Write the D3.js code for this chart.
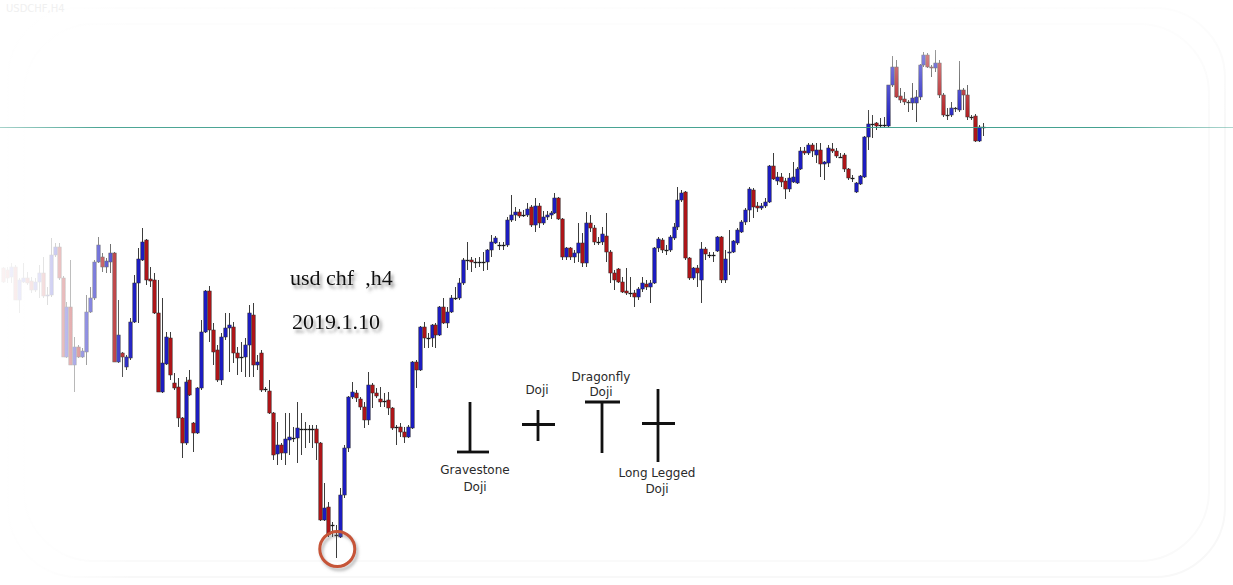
<!DOCTYPE html>
<html><head><meta charset="utf-8">
<script src="https://cdn.jsdelivr.net/npm/d3@7"></script>
<style>html,body{margin:0;padding:0;background:#fff;overflow:hidden}</style>
</head><body><svg id="chart" width="1233" height="585"></svg>
<script>
// USDCHF H4 candles
const open=[1.0132,1.0130,1.0123,1.0133,1.0100,1.0118,1.0122,1.0119,1.0110,1.0118,
1.0127,1.0104,1.0105,1.0145,1.0153,1.0122,1.0043,1.0093,1.0035,1.0053,
1.0043,1.0048,1.0088,1.0102,1.0138,1.0143,1.0133,1.0138,1.0147,1.0038,
1.0047,1.0033,1.0042,1.0078,1.0117,1.0140,1.0160,1.0121,1.0120,1.0087,
1.0008,1.0036,1.0062,1.0017,1.0013,0.9982,0.9957,1.0020,0.9977,0.9967,
1.0012,1.0068,1.0109,1.0070,1.0050,1.0020,1.0063,1.0072,1.0073,1.0047,
1.0043,1.0043,1.0055,1.0085,1.0035,1.0047,1.0011,1.0009,0.9987,0.9946,
0.9955,0.9947,0.9960,0.9962,0.9962,0.9971,0.9971,0.9971,0.9971,0.9971,
0.9957,0.9880,0.9893,0.9875,0.9865,0.9863,0.9905,0.9952,1.0003,1.0007,
1.0001,0.9993,0.9980,1.0015,1.0007,1.0001,0.9999,1.0000,0.9992,0.9973,
0.9973,0.9968,0.9963,0.9972,1.0038,1.0030,1.0073,1.0062,1.0062,1.0075,
1.0065,1.0093,1.0077,1.0088,1.0102,1.0102,1.0117,1.0140,1.0140,1.0138,
1.0138,1.0138,1.0138,1.0150,1.0157,1.0155,1.0155,1.0155,1.0180,1.0185,
1.0188,1.0185,1.0185,1.0193,1.0175,1.0194,1.0177,1.0183,1.0185,1.0187,
1.0202,1.0181,1.0143,1.0152,1.0143,1.0147,1.0157,1.0137,1.0177,1.0172,
1.0158,1.0158,1.0164,1.0148,1.0127,1.0131,1.0118,1.0109,1.0107,1.0107,
1.0103,1.0111,1.0116,1.0113,1.0117,1.0152,1.0160,1.0150,1.0150,1.0162,
1.0173,1.0200,1.0208,1.0142,1.0122,1.0132,1.0120,1.0151,1.0145,1.0145,
1.0149,1.0163,1.0120,1.0147,1.0148,1.0157,1.0168,1.0178,1.0190,1.0210,
1.0194,1.0192,1.0194,1.0198,1.0234,1.0219,1.0223,1.0219,1.0211,1.0218,
1.0217,1.0231,1.0249,1.0247,1.0255,1.0245,1.0250,1.0236,1.0237,1.0251,
1.0249,1.0243,1.0245,1.0231,1.0222,1.0208,1.0216,1.0223,1.0263,1.0276,
1.0277,1.0275,1.0275,1.0274,1.0315,1.0333,1.0304,1.0301,1.0298,1.0297,
1.0297,1.0303,1.0335,1.0345,1.0333,1.0332,1.0337,1.0305,1.0285,1.0285,
1.0292,1.0290,1.0310,1.0305,1.0283,1.0284,1.0259,1.0273];
const high=[1.0133,1.0133,1.0137,1.0135,1.0122,1.0137,1.0128,1.0123,1.0122,1.0135,
1.0143,1.0113,1.0162,1.0157,1.0157,1.0124,1.0098,1.0140,1.0063,1.0055,
1.0052,1.0105,1.0113,1.0140,1.0163,1.0147,1.0142,1.0156,1.0148,1.0100,
1.0048,1.0045,1.0082,1.0125,1.0152,1.0172,1.0161,1.0133,1.0127,1.0120,
1.0102,1.0068,1.0068,1.0027,1.0022,0.9983,1.0023,1.0030,0.9978,1.0013,
1.0080,1.0110,1.0114,1.0077,1.0055,1.0067,1.0087,1.0087,1.0078,1.0053,
1.0058,1.0062,1.0095,1.0097,1.0045,1.0050,1.0013,1.0020,0.9988,0.9978,
0.9957,0.9987,0.9987,0.9973,0.9998,0.9987,0.9978,0.9975,0.9975,0.9975,
0.9958,0.9917,0.9898,0.9878,0.9875,0.9912,0.9955,1.0004,1.0018,1.0010,
1.0003,0.9998,1.0028,1.0017,1.0012,1.0013,1.0007,1.0008,0.9993,0.9975,
0.9977,0.9973,0.9975,1.0039,1.0040,1.0074,1.0078,1.0067,1.0076,1.0077,
1.0094,1.0102,1.0093,1.0105,1.0113,1.0122,1.0142,1.0158,1.0143,1.0142,
1.0143,1.0148,1.0151,1.0165,1.0164,1.0158,1.0158,1.0183,1.0205,1.0193,
1.0191,1.0190,1.0197,1.0195,1.0202,1.0197,1.0189,1.0189,1.0189,1.0207,
1.0203,1.0182,1.0153,1.0153,1.0150,1.0177,1.0167,1.0188,1.0185,1.0175,
1.0163,1.0173,1.0187,1.0150,1.0130,1.0132,1.0123,1.0132,1.0123,1.0110,
1.0113,1.0123,1.0120,1.0120,1.0153,1.0163,1.0162,1.0155,1.0165,1.0177,
1.0213,1.0210,1.0209,1.0143,1.0133,1.0135,1.0158,1.0153,1.0148,1.0148,
1.0164,1.0164,1.0150,1.0170,1.0160,1.0172,1.0180,1.0192,1.0213,1.0212,
1.0198,1.0197,1.0202,1.0235,1.0247,1.0228,1.0227,1.0222,1.0227,1.0238,
1.0233,1.0253,1.0253,1.0257,1.0257,1.0257,1.0257,1.0239,1.0255,1.0257,
1.0252,1.0247,1.0247,1.0232,1.0225,1.0218,1.0225,1.0264,1.0290,1.0285,
1.0278,1.0282,1.0283,1.0315,1.0344,1.0340,1.0312,1.0308,1.0300,1.0317,
1.0310,1.0336,1.0348,1.0347,1.0335,1.0350,1.0340,1.0307,1.0292,1.0298,
1.0293,1.0339,1.0312,1.0315,1.0285,1.0286,1.0275,1.0277];
const low=[1.0117,1.0117,1.0117,1.0100,1.0087,1.0117,1.0115,1.0107,1.0108,1.0102,
1.0102,1.0095,1.0103,1.0143,1.0120,1.0043,1.0042,1.0035,1.0008,1.0042,
1.0042,1.0035,1.0087,1.0100,1.0137,1.0128,1.0127,1.0127,1.0038,1.0037,
1.0023,1.0030,1.0040,1.0077,1.0077,1.0139,1.0115,1.0113,1.0086,1.0008,
1.0007,1.0035,1.0020,1.0010,0.9973,0.9942,0.9955,1.0004,0.9948,0.9966,
1.0010,1.0067,1.0058,1.0035,1.0018,1.0015,1.0060,1.0028,1.0037,1.0025,
1.0028,1.0023,1.0023,1.0023,1.0030,1.0008,1.0008,0.9986,0.9940,0.9935,
0.9940,0.9935,0.9945,0.9958,0.9937,0.9945,0.9952,0.9957,0.9952,0.9940,
0.9879,0.9879,0.9863,0.9863,0.9842,0.9862,0.9902,0.9948,1.0001,0.9998,
0.9990,0.9972,0.9975,0.9992,1.0002,0.9993,0.9993,0.9985,0.9970,0.9955,
0.9963,0.9957,0.9962,0.9971,1.0012,1.0029,1.0052,1.0052,1.0053,1.0052,
1.0064,1.0076,1.0072,1.0087,1.0100,1.0100,1.0115,1.0130,1.0128,1.0132,
1.0133,1.0129,1.0130,1.0143,1.0156,1.0150,1.0150,1.0153,1.0178,1.0179,
1.0182,1.0183,1.0183,1.0173,1.0168,1.0172,1.0175,1.0180,1.0181,1.0186,
1.0180,1.0140,1.0140,1.0140,1.0137,1.0138,1.0133,1.0133,1.0168,1.0155,
1.0155,1.0155,1.0138,1.0117,1.0110,1.0117,1.0107,1.0105,1.0103,1.0093,
1.0100,1.0108,1.0110,1.0097,1.0116,1.0148,1.0147,1.0145,1.0148,1.0160,
1.0170,1.0198,1.0140,1.0120,1.0120,1.0113,1.0097,1.0140,1.0142,1.0138,
1.0148,1.0117,1.0117,1.0125,1.0147,1.0155,1.0167,1.0175,1.0178,1.0182,
1.0188,1.0190,1.0192,1.0197,1.0220,1.0215,1.0213,1.0201,1.0208,1.0217,
1.0216,1.0230,1.0245,1.0245,1.0243,1.0237,1.0223,1.0220,1.0233,1.0247,
1.0242,1.0242,1.0228,1.0220,1.0218,1.0207,1.0215,1.0222,1.0250,1.0262,
1.0270,1.0272,1.0273,1.0273,1.0313,1.0302,1.0297,1.0295,1.0288,1.0290,
1.0278,1.0300,1.0333,1.0332,1.0323,1.0328,1.0302,1.0283,1.0280,1.0283,
1.0288,1.0288,1.0290,1.0280,1.0280,1.0258,1.0258,1.0264];
const close=[1.0118,1.0122,1.0133,1.0100,1.0120,1.0122,1.0117,1.0110,1.0118,1.0127,
1.0104,1.0105,1.0145,1.0153,1.0122,1.0043,1.0093,1.0035,1.0053,1.0043,
1.0049,1.0088,1.0102,1.0138,1.0155,1.0133,1.0139,1.0147,1.0038,1.0065,
1.0043,1.0043,1.0078,1.0117,1.0141,1.0158,1.0120,1.0119,1.0087,1.0008,
1.0037,1.0063,1.0025,1.0012,0.9982,0.9957,1.0018,1.0005,0.9967,1.0012,
1.0068,1.0109,1.0070,1.0048,1.0020,1.0063,1.0072,1.0075,1.0047,1.0042,
1.0043,1.0055,1.0087,1.0035,1.0038,1.0010,1.0011,0.9987,0.9945,0.9955,
0.9947,0.9961,0.9963,0.9962,0.9972,0.9971,0.9971,0.9971,0.9971,0.9957,
0.9880,0.9892,0.9865,0.9875,0.9865,0.9905,0.9952,1.0003,1.0008,1.0002,
0.9993,0.9980,1.0015,1.0007,1.0004,0.9998,0.9999,0.9992,0.9972,0.9973,
0.9968,0.9963,0.9973,1.0038,1.0030,1.0073,1.0062,1.0062,1.0075,1.0065,
1.0093,1.0077,1.0088,1.0102,1.0102,1.0117,1.0140,1.0140,1.0138,1.0138,
1.0138,1.0138,1.0150,1.0158,1.0162,1.0155,1.0155,1.0180,1.0185,1.0188,
1.0184,1.0185,1.0191,1.0175,1.0194,1.0177,1.0183,1.0185,1.0187,1.0202,
1.0181,1.0143,1.0152,1.0143,1.0147,1.0157,1.0137,1.0177,1.0172,1.0158,
1.0158,1.0166,1.0148,1.0127,1.0120,1.0118,1.0108,1.0107,1.0107,1.0103,
1.0111,1.0117,1.0113,1.0117,1.0152,1.0161,1.0150,1.0150,1.0163,1.0173,
1.0200,1.0207,1.0142,1.0122,1.0132,1.0127,1.0151,1.0146,1.0145,1.0145,
1.0163,1.0120,1.0141,1.0148,1.0159,1.0170,1.0178,1.0190,1.0211,1.0193,
1.0192,1.0194,1.0198,1.0234,1.0221,1.0223,1.0218,1.0211,1.0222,1.0223,
1.0231,1.0249,1.0247,1.0255,1.0249,1.0250,1.0236,1.0238,1.0252,1.0249,
1.0244,1.0243,1.0231,1.0222,1.0222,1.0217,1.0224,1.0263,1.0276,1.0276,
1.0274,1.0275,1.0275,1.0315,1.0333,1.0303,1.0300,1.0298,1.0298,1.0302,
1.0303,1.0335,1.0345,1.0333,1.0332,1.0337,1.0305,1.0285,1.0285,1.0292,
1.0292,1.0310,1.0305,1.0283,1.0283,1.0259,1.0273,1.0273];
const levelPrice = 1.0273;          // horizontal level line
const markedIndex = 84;             // candle circled at the low (0-based)
const titleText = ["usd chf  ,h4", "2019.1.10"];
const watermarkText = "USDCHF,H4";
const dojiLabels = [["Gravestone","Doji"],["Doji"],["Dragonfly","Doji"],["Long Legged","Doji"]];

const W = 1233, H = 585;
const svg = d3.select("#chart");
const defs = svg.append("defs");

const n = close.length;
const x = d3.scalePoint().domain(d3.range(n)).range([3, 983]);
const y = d3.scaleLinear().domain([0.9840, 1.0400]).range([560, 0]);

// filters
const sh = defs.append("filter").attr("id","tshadow").attr("x","-20%").attr("y","-40%").attr("width","140%").attr("height","200%");
sh.append("feDropShadow").attr("dx",2.5).attr("dy",3.5).attr("stdDeviation",1.8).attr("flood-color","#555").attr("flood-opacity",0.6);
const csh = defs.append("filter").attr("id","cshadow").attr("x","-50%").attr("y","-50%").attr("width","200%").attr("height","200%");
csh.append("feDropShadow").attr("dx",2).attr("dy",3).attr("stdDeviation",1.5).attr("flood-color","#777").attr("flood-opacity",0.5);

// background with very faint vignette rings
svg.append("rect").attr("width",W).attr("height",H).attr("fill","#fff");
[[8,"#f8f8f8"],[24,"#fafafa"]].forEach(([ins,c])=>{
  svg.append("rect").attr("x",ins).attr("y",ins).attr("width",W-2*ins).attr("height",H-2*ins)
    .attr("rx",70).attr("fill","none").attr("stroke",c).attr("stroke-width",2);
});

// candles
const g = svg.append("g");
const idx = d3.range(n);
g.selectAll("line.wick").data(idx).join("line").attr("class","wick")
  .attr("x1",i=>Math.round(x(i))+0.5).attr("x2",i=>Math.round(x(i))+0.5)
  .attr("y1",i=>y(high[i])).attr("y2",i=>y(low[i]))
  .attr("stroke","#3c3c3c").attr("stroke-width",1);
const bodies = idx.filter(i=>close[i]!==open[i]);
g.selectAll("rect.body").data(bodies).join("rect").attr("class","body")
  .attr("x",i=>Math.round(x(i))-1.2).attr("width",3.4)
  .attr("y",i=>y(Math.max(open[i],close[i])))
  .attr("height",i=>Math.max(1,Math.abs(y(open[i])-y(close[i]))))
  .attr("fill",i=>close[i]>open[i]?"#1c1cc4":"#b01418")
  .attr("stroke","#2a2a2a").attr("stroke-width",0.5);
const dojis = idx.filter(i=>close[i]===open[i]);
g.selectAll("line.doji").data(dojis).join("line").attr("class","doji")
  .attr("x1",i=>Math.round(x(i))-1.5).attr("x2",i=>Math.round(x(i))+2.5)
  .attr("y1",i=>Math.round(y(close[i]))+0.5).attr("y2",i=>Math.round(y(close[i]))+0.5)
  .attr("stroke","#1a1a1a").attr("stroke-width",1.3);

// fade overlays (left and top)
const lg = defs.append("linearGradient").attr("id","fadeL").attr("x1",0).attr("x2",1).attr("y1",0).attr("y2",0);
[[0,0.95],[0.3,0.88],[0.55,0.64],[0.78,0.32],[1,0]].forEach(([o,a])=>lg.append("stop").attr("offset",o).attr("stop-color","#fff").attr("stop-opacity",a));
svg.append("rect").attr("x",0).attr("y",0).attr("width",135).attr("height",H).attr("fill","url(#fadeL)");
const tg = defs.append("linearGradient").attr("id","fadeT").attr("x1",0).attr("x2",0).attr("y1",0).attr("y2",1);
[[0,0.75],[0.4,0.5],[0.75,0.2],[1,0]].forEach(([o,a])=>tg.append("stop").attr("offset",o).attr("stop-color","#fff").attr("stop-opacity",a));
svg.append("rect").attr("x",0).attr("y",0).attr("width",W).attr("height",125).attr("fill","url(#fadeT)");

// level line
const hg = defs.append("linearGradient").attr("id","lineG").attr("gradientUnits","userSpaceOnUse").attr("x1",0).attr("x2",W).attr("y1",0).attr("y2",0);
[[0,0.45],[0.08,0.9],[0.9,0.95],[1,0.4]].forEach(([o,a])=>hg.append("stop").attr("offset",o).attr("stop-color","#3a9c8a").attr("stop-opacity",a));
svg.append("line").attr("x1",0).attr("x2",W)
  .attr("y1",Math.round(y(levelPrice))+0.5).attr("y2",Math.round(y(levelPrice))+0.5)
  .attr("stroke","url(#lineG)").attr("stroke-width",1);

// watermark
svg.append("text").attr("x",6).attr("y",12).text(watermarkText)
  .attr("font-family","DejaVu Sans").attr("font-size",10).attr("fill","#f0f0f0");

// title text
svg.append("text").attr("x",290).attr("y",285).text(titleText[0])
  .attr("font-family","Liberation Serif").attr("font-size",22).attr("fill","#111")
  .attr("xml:space","preserve").style("white-space","pre").attr("filter","url(#tshadow)");
svg.append("text").attr("x",292).attr("y",329).text(titleText[1])
  .attr("font-family","Liberation Serif").attr("font-size",22).attr("fill","#111")
  .attr("filter","url(#tshadow)");

// circle at the low
svg.append("circle").attr("cx",x(markedIndex)+1).attr("cy",y(low[markedIndex])-9).attr("r",17.5)
  .attr("fill","none").attr("stroke","#c65437").attr("stroke-width",3).attr("filter","url(#cshadow)");

// doji illustrations
const dg = svg.append("g").attr("stroke","#111").attr("stroke-width",2.8).attr("fill","none");
dg.append("line").attr("x1",470).attr("x2",470).attr("y1",402).attr("y2",452);
dg.append("line").attr("x1",457).attr("x2",489).attr("y1",452).attr("y2",452);
dg.append("line").attr("x1",538).attr("x2",538).attr("y1",410).attr("y2",441);
dg.append("line").attr("x1",522).attr("x2",555).attr("y1",424.5).attr("y2",424.5);
dg.append("line").attr("x1",585).attr("x2",620).attr("y1",402).attr("y2",402);
dg.append("line").attr("x1",602).attr("x2",602).attr("y1",402).attr("y2",453);
dg.append("line").attr("x1",658).attr("x2",658).attr("y1",389).attr("y2",462);
dg.append("line").attr("x1",642).attr("x2",675).attr("y1",423.5).attr("y2",423.5);

const labelPos = [[475,[474,491]],[537,[394]],[601,[381,396]],[657,[477,493]]];
dojiLabels.forEach((lines,k)=>{
  lines.forEach((t,j)=>{
    svg.append("text").attr("x",labelPos[k][0]).attr("y",labelPos[k][1][j]).text(t)
      .attr("text-anchor","middle").attr("font-family","DejaVu Sans").attr("font-size",12)
      .attr("fill","#2a2a2a");
  });
});
</script></body></html>
